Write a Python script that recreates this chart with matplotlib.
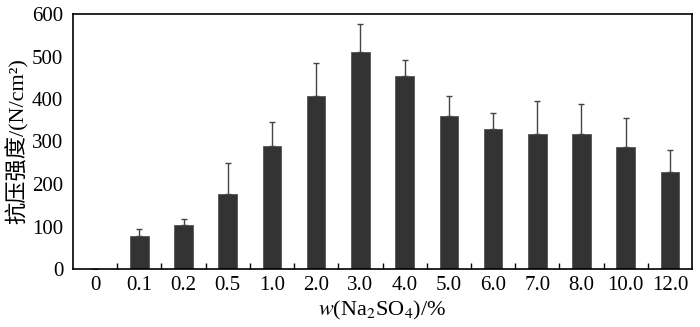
import numpy as np
import matplotlib
matplotlib.use("Agg")
import matplotlib.pyplot as plt
from matplotlib.ticker import FixedLocator

plt.rcParams["font.family"] = ["Liberation Serif", "Noto Sans CJK SC"]
plt.rcParams["mathtext.fontset"] = "stix"

# data
categories = ["0", "0.1", "0.2", "0.5", "1.0", "2.0", "3.0", "4.0",
              "5.0", "6.0", "7.0", "8.0", "10.0", "12.0"]
strength = [0, 78, 103, 177, 290, 406, 511, 454, 361, 330, 318, 318, 288, 229]
err_top = [0, 95, 118, 249, 345, 485, 576, 492, 408, 366, 396, 388, 356, 281]

upper = [t - v for t, v in zip(err_top, strength)]
lower = [0] * len(strength)

fig = plt.figure(figsize=(7.0, 3.27), dpi=100)
ax = fig.add_axes([73 / 700, 1 - 269 / 327, 619 / 700, 255 / 327])

x = np.arange(len(categories))
ax.bar(x, strength, width=0.42, color="#333333", edgecolor="#555555", linewidth=0.6,
       yerr=[lower, upper], error_kw=dict(ecolor="#444444", elinewidth=1.0,
                                          capsize=2.5, capthick=1.0))

ax.set_xlim(-0.5, len(categories) - 0.5)
ax.set_ylim(0, 600)
ax.set_yticks(range(0, 601, 100))
ax.set_xticks(x)
ax.set_xticklabels(categories)
ax.xaxis.set_minor_locator(FixedLocator(x[:-1] + 0.5))
ax.tick_params(axis="x", which="major", length=0, labelsize=15, pad=5)
ax.tick_params(axis="x", which="minor", direction="in", length=4, width=1.0)
ax.tick_params(axis="y", length=0, labelsize=15, pad=7)

for s in ax.spines.values():
    s.set_linewidth(1.2)

ax.set_ylabel("抗压强度/(N/cm²)", fontsize=16, labelpad=2)
ax.set_xlabel(r"$\mathit{w}$(Na$_2$SO$_4$)/%", fontsize=16, labelpad=3)

fig.savefig("out.png", dpi=100)
